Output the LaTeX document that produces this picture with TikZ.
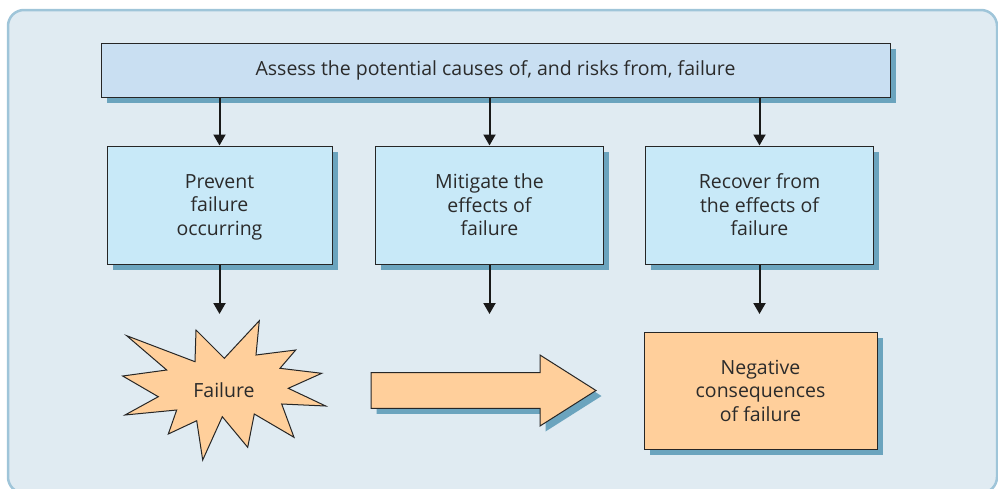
\documentclass[tikz,border=0pt]{standalone}
\usepackage{fontspec}
\setmainfont{Open Sans}
\usetikzlibrary{arrows.meta,shadows}
\definecolor{panelbg}{HTML}{E0EBF2}
\definecolor{panelbd}{HTML}{9FC5D9}
\definecolor{topfill}{HTML}{C9DFF2}
\definecolor{midfill}{HTML}{C8E9F8}
\definecolor{shd}{HTML}{6BA4BE}
\definecolor{peach}{HTML}{FFCF9B}
\definecolor{txt}{HTML}{2B2B2B}
\newcommand{\tline}[1]{\vphantom{A}#1}
\tikzset{
  sbox/.style={draw=black!85, line width=1pt, text=txt, align=center, inner sep=0pt,
    font=\fontsize{19.5}{23.5}\selectfont,
    general shadow={shadow xshift=5.5pt, shadow yshift=-5.5pt, fill=shd}},
  multi/.style={text depth=0pt},
  arr/.style={line width=2pt, draw=black!90, -{Triangle[length=11pt,width=12pt]}},
}
\begin{document}
\begin{tikzpicture}[x=1pt,y=-1pt]
\useasboundingbox (0,0) rectangle (998,488);
\begin{scope}
\clip (0,0) rectangle (998,488);
\draw[fill=panelbg, draw=panelbd, line width=2.5pt, rounded corners=16pt] (8,10) rectangle (997,493);
\end{scope}
% top box
\node[sbox, fill=topfill, minimum width=789pt, minimum height=54pt] (top) at (495.5,70) {Assess the potential causes of, and risks from, failure};
% middle boxes
\node[sbox, multi, fill=midfill, minimum width=225pt, minimum height=118pt] (b1) at (219.5,205) {\tline{Prevent}\\\tline{failure}\\\tline{occurring}};
\node[sbox, multi, fill=midfill, minimum width=228pt, minimum height=118pt] (b2) at (489.5,205) {\tline{Mitigate the}\\\tline{effects of}\\\tline{failure}};
\node[sbox, multi, fill=midfill, minimum width=228pt, minimum height=118pt] (b3) at (759.5,205) {\tline{Recover from}\\\tline{the effects of}\\\tline{failure}};
% negative consequences
\node[sbox, multi, fill=peach, minimum width=233pt, minimum height=117pt] (neg) at (760.5,390.5) {\tline{Negative}\\\tline{consequences}\\\tline{of failure}};
% connectors
\draw[arr] (top.south -| b1.north) -- (b1.north);
\draw[arr] (top.south -| b2.north) -- (b2.north);
\draw[arr] (top.south -| b3.north) -- (b3.north);
\coordinate (e1) at (219.5,314);
\coordinate (e2) at (489.5,314);
\coordinate (e3) at (759.5,314);
\draw[arr] (b1.south) -- (e1);
\draw[arr] (b2.south) -- (e2);
\draw[arr] (b3.south) -- (e3);
% starburst
\draw[fill=peach, draw=black!85, line width=1pt, line join=miter]
 (126.7,335.7) -- (195,361.7) -- (196,330) -- (224.3,358.3) -- (259.3,320.7) -- (256,355)
 -- (295.7,350) -- (280,368.3) -- (321.7,373.3) -- (288.3,388.3) -- (325.7,406) -- (281.7,404)
 -- (294,437.3) -- (254.3,414) -- (247.7,447.3) -- (222.3,416.7) -- (202.7,460) -- (196.7,420.7)
 -- (168.3,434) -- (176.7,410) -- (125,415) -- (158.3,396.7) -- (122.7,376) -- (166.7,370) -- cycle;
\node[text=txt, font=\fontsize{19.5}{23.5}\selectfont] (fail) at (224,390) {Failure};
% block arrow
\fill[shd, shift={(5.5,5.5)}] (371,372.7) -- (540,372.7) -- (540,355) -- (596,390.5) -- (540,426) -- (540,408.3) -- (371,408.3) -- cycle;
\draw[fill=peach, draw=black!85, line width=1pt] (371,372.7) -- (540,372.7) -- (540,355) -- (596,390.5) -- (540,426) -- (540,408.3) -- (371,408.3) -- cycle;
\end{tikzpicture}
\end{document}
